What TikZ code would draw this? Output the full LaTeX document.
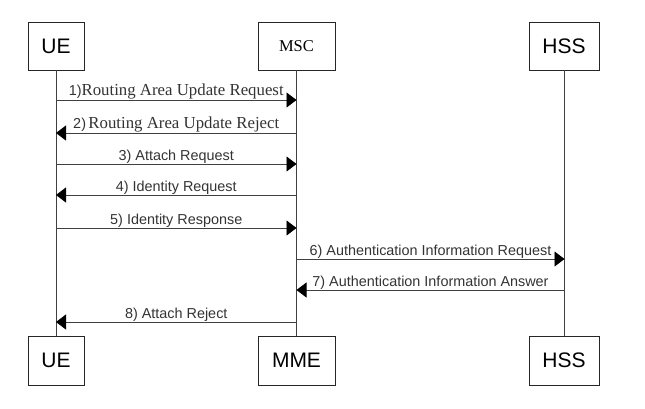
\documentclass[tikz,border=0pt]{standalone}
\usepackage{fontspec}
\setmainfont{Liberation Serif}
\setsansfont{Liberation Sans}
\usetikzlibrary{arrows.meta, positioning}
\tikzset{
entity/.style={draw=black!85, line width=0.9pt, fill=white, inner sep=0pt, font=\sffamily\fontsize{21}{21}\selectfont}, % boxes at both ends of a lifeline
lifeline/.style={draw=black!75, line width=0.8pt},
msg/.style={draw=black!75, line width=0.8pt, -{Triangle[length=10pt,width=15pt,color=black]}}, % message arrows
lbl/.style={above=0pt, inner sep=0pt, text=black!80, font=\sffamily\fontsize{14.4}{14.4}\selectfont}, % message labels
}

\begin{document}
\begin{tikzpicture}[x=1pt, y=-1pt]
    \useasboundingbox (0,0) rectangle (645,408);
    % top boxes
    \node[entity, minimum width=56, minimum height=48] (ueTop) at (56,46) {UE};
    \node[entity, minimum width=77, minimum height=48, font=\rmfamily\fontsize{16.5}{16.5}\selectfont] (mscTop) at (296.5,46) {MSC};
    \node[entity, minimum width=70, minimum height=48] (hssTop) at (564,46) {HSS};
    % bottom boxes
    \node[entity, minimum width=56, minimum height=49] (ueBot) at (56,360.5) {UE};
    \node[entity, minimum width=77, minimum height=49] (mmeBot) at (296.5,360.5) {MME};
    \node[entity, minimum width=70, minimum height=49] (hssBot) at (564,360.5) {HSS};
    % lifelines
    \draw[lifeline] (ueTop) -- (ueBot);
    \draw[lifeline] (mscTop) -- (mmeBot);
    \draw[lifeline] (hssTop) -- (hssBot);
    % points on the lifelines
    \foreach \i/\y in {1/100, 2/133, 3/164, 4/195, 5/228, 6/259, 7/290, 8/322} {
        \coordinate (ue\i) at (56,\y);
        \coordinate (mme\i) at (296.5,\y);
        \coordinate (hss\i) at (564.5,\y);
    }
    % messages
    \draw[msg] (ue1) -- node[lbl] {1){\rmfamily\fontsize{16.8}{16.8}\selectfont Routing Area Update Request}} (mme1);
    \draw[msg] (mme2) -- node[lbl] {2)\,{\rmfamily\fontsize{16.8}{16.8}\selectfont Routing Area Update Reject}} (ue2);
    \draw[msg] (ue3) -- node[lbl] {3) Attach Request} (mme3);
    \draw[msg] (mme4) -- node[lbl] {4) Identity Request} (ue4);
    \draw[msg] (ue5) -- node[lbl] {5) Identity Response} (mme5);
    \draw[msg] (mme6) -- node[lbl] {6) Authentication Information Request} (hss6);
    \draw[msg] (hss7) -- node[lbl] {7) Authentication Information Answer} (mme7);
    \draw[msg] (mme8) -- node[lbl] {8) Attach Reject} (ue8);
\end{tikzpicture}
\end{document}
